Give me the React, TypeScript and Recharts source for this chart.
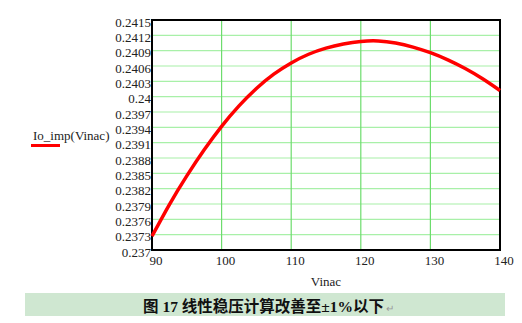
import React from 'react';
import { LineChart, Line, XAxis, YAxis, CartesianGrid, ReferenceArea } from 'recharts';

const vinac = [90, 92.5, 95, 97.5, 100, 102.5, 105, 107.5, 110, 112.5, 115, 117.5, 120, 122.5, 125, 127.5, 130, 132.5, 135, 137.5, 140];
const ioImp = [0.23727, 0.23789, 0.23845, 0.23896, 0.23942, 0.23982, 0.24016, 0.24044, 0.24066, 0.24083, 0.24095, 0.24103, 0.24108, 0.24109, 0.24105, 0.24097, 0.24086, 0.24072, 0.24055, 0.24035, 0.24012];
const xTicks = [90, 100, 110, 120, 130, 140];
const yTicks = [0.237, 0.2373, 0.2376, 0.2379, 0.2382, 0.2385, 0.2388, 0.2391, 0.2394, 0.2397, 0.24, 0.2403, 0.2406, 0.2409, 0.2412, 0.2415];
const yLabels = ['0.237', '0.2373', '0.2376', '0.2379', '0.2382', '0.2385', '0.2388', '0.2391', '0.2394', '0.2397', '0.24', '0.2403', '0.2406', '0.2409', '0.2412', '0.2415'];
const xLabel = 'Vinac';
const seriesName = 'Io_imp(Vinac)';
const caption = '图 17  线性稳压计算改善至±1%以下';

const data = vinac.map((v, i) => ({ v, io: ioImp[i] }));

const FONT = "'Liberation Serif', 'Times New Roman', serif";

const YTick = (props: any) => {
  const { x, y, payload } = props;
  const idx = yTicks.findIndex((t) => Math.abs(t - payload.value) < 1e-9);
  const label = idx >= 0 ? yLabels[idx] : String(payload.value);
  return (
    <text x={x} y={y} dy={6.5} textAnchor="end" fontFamily={FONT} fontSize={13} fill="#222">
      {label}
    </text>
  );
};

const XTick = (props: any) => {
  const { x, y, payload } = props;
  return (
    <text x={x + 4} y={y} dy={14.5} textAnchor="middle" fontFamily={FONT} fontSize={13} fill="#222">
      {payload.value}
    </text>
  );
};

export default function App() {
  return (
    <div style={{ position: 'absolute', left: 0, top: 0, width: 522, height: 323, background: '#fff', overflow: 'hidden' }}>
      <LineChart width={522} height={300} data={data} margin={{ top: 20, right: 22, bottom: 10, left: 92 }}>
        <CartesianGrid horizontal={true} vertical={false} stroke="#a8f0a8" strokeWidth={1.2} />
        <CartesianGrid horizontal={false} vertical={true} stroke="#6ddc6d" strokeWidth={1.2} />
        <XAxis
          dataKey="v"
          type="number"
          domain={[90, 140]}
          ticks={xTicks}
          tickLine={false}
          tickSize={0}
          tickMargin={0}
          axisLine={false}
          height={40}
          tick={<XTick />}
          label={{ value: xLabel, position: 'insideBottom', offset: 4, fontFamily: FONT, fontSize: 13, fill: '#222' }}
        />
        <YAxis
          type="number"
          domain={[0.237, 0.2415]}
          ticks={yTicks}
          tickLine={false}
          tickSize={0}
          tickMargin={1}
          axisLine={false}
          width={60}
          interval={0}
          tick={<YTick />}
        />
        <Line type="natural" dataKey="io" stroke="#ff0000" strokeWidth={3.5} dot={false} isAnimationActive={false} />
        <ReferenceArea x1={90} x2={140} y1={0.237} y2={0.2415} fill="none" stroke="#000" strokeWidth={2} ifOverflow="visible" />
      </LineChart>
      <div style={{ position: 'absolute', left: 33, top: 128, fontFamily: FONT, fontSize: 13, color: '#222', whiteSpace: 'nowrap', lineHeight: '16px' }}>
        {seriesName}
      </div>
      <div style={{ position: 'absolute', left: 31, top: 144, width: 29, height: 3, background: '#ff0000' }} />
      <div style={{ position: 'absolute', left: 25, top: 293, width: 480, height: 23, background: '#cfe7d1' }}>
        <span style={{ position: 'absolute', left: 118, top: 5, fontFamily: "'Liberation Serif', 'Noto Sans CJK SC', serif", fontWeight: 'bold', fontSize: 15.5, lineHeight: '17px', color: '#111', whiteSpace: 'nowrap' }}>
          {caption}
          <span style={{ fontWeight: 'normal', fontSize: 10, color: '#999', marginLeft: 2 }}>↵</span>
        </span>
      </div>
    </div>
  );
}
